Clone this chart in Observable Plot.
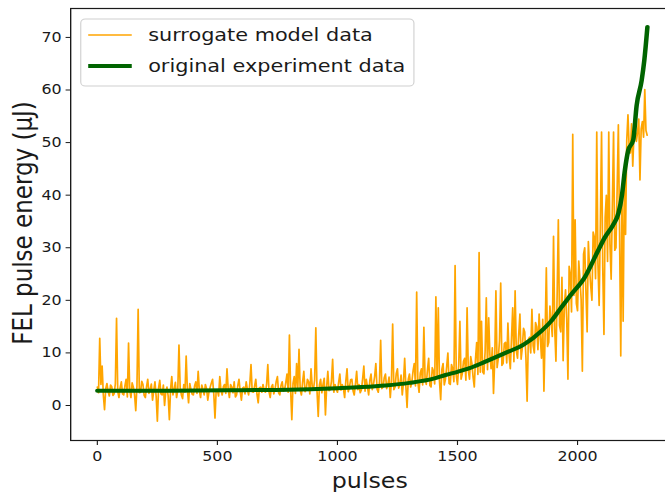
<!DOCTYPE html>
<html><head><meta charset="utf-8">
<script src="https://cdn.jsdelivr.net/npm/d3@7"></script>
<script src="https://cdn.jsdelivr.net/npm/@observablehq/plot@0.6"></script>
<style>
html,body{margin:0;padding:0;background:#fff;overflow:hidden;}
#chart{position:relative;width:665px;height:496px;}
</style></head><body><div id="chart"></div>
<script>
// ---- data ----
const surrogateStep = 5; // pulses between successive surrogate samples
const surrogateValues = [
  3.5, 2.4, 12.8, 4.0, 7.5, 2.0, -0.8, 3.2, 4.2, 2.6, 1.8, 3.9, 3.6, 1.9, 2.2, 4.1, 16.6, 2.7, 1.5, 3.4,
  4.5, 2.2, 2.0, 3.8, 5.0, 1.6, 11.9, 2.9, 1.5, 4.3, 3.5, 2.1, -1.0, 3.7, 18.3, 2.4, 2.5, 4.6, 4.0, 1.9,
  1.5, 3.6, 5.0, 2.3, 3.0, 4.1, 1.0, 2.8, 4.5, 1.7, -3.0, 3.3, 4.8, 2.2, 2.0, 3.9, 0.0, 2.6, 3.5, 1.8,
  -2.7, 3.1, 5.5, 2.0, 3.0, 4.4, 1.5, 2.9, 11.5, 3.4, 2.0, 1.3, 4.0, 2.5, 9.4, 3.0, 0.5, 4.2, 3.0, 2.1,
  2.0, 3.7, 4.5, 2.3, 6.5, 2.8, 1.5, 3.9, 3.0, 2.0, 4.0, 3.2, 1.0, 2.6, 3.5, 4.3, 5.0, 2.2, -2.4, 3.0,
  3.0, 1.8, 5.5, 2.9, 2.0, 3.6, 4.0, 2.3, 7.0, 3.1, 1.5, 4.0, 3.5, 2.4, 4.5, 1.6, 2.0, 3.8, 5.0, 2.7,
  1.0, 3.3, 3.5, 2.2, 4.5, 3.0, 2.0, 4.1, 7.8, 2.6, 2.5, 3.7, 5.0, 2.1, 0.5, 3.4, 3.5, 2.5, 4.0, 2.9,
  2.5, 4.0, 7.8, 2.6, 1.5, 3.5, 4.0, 2.2, 3.0, 4.6, 5.5, 2.4, 2.0, 3.8, 4.5, 2.7, 3.0, 4.4, 6.0, 2.5,
  13.4, 3.0, -2.7, 4.2, 5.5, 2.3, 8.0, 3.4, 10.7, 2.9, 2.0, 4.5, 6.5, 2.6, 3.0, 5.0, 4.5, 2.2, 7.0, 3.6,
  3.0, 4.8, 14.8, 2.7, -2.1, 3.9, 5.0, 2.4, 4.0, 5.2, -1.8, 3.5, 6.5, 2.8, 3.0, 4.6, 8.8, 2.5, 4.0, 3.1,
  2.5, 4.4, 6.0, 2.9, 4.0, 3.2, 1.5, 4.7, 7.0, 2.6, 3.5, 4.9, 5.0, 2.8, 2.0, 4.1, 6.5, 3.0, 4.0, 2.4,
  3.0, 5.1, 7.5, 2.7, 5.0, 3.6, 2.0, 4.8, 6.0, 3.0, 4.0, 5.5, 8.0, 3.1, 2.5, 4.5, 12.4, 3.2, 3.5, 5.3,
  6.0, 3.2, 4.0, 5.4, 1.5, 4.6, 15.5, 3.0, 3.5, 6.1, 7.0, 3.3, 4.0, 5.8, 2.0, 4.4, 9.0, 3.6, -0.4, 5.0,
  6.0, 3.5, 4.5, 6.6, 8.0, 3.7, 21.6, 4.4, 2.5, 6.2, 7.0, 3.9, 14.9, 5.2, 4.0, 6.8, 9.0, 3.8, 3.5, 7.2,
  6.5, 4.1, 20.7, 5.3, 18.6, 4.6, 1.1, 6.9, 8.0, 3.9, 5.0, 7.4, 10.0, 4.2, 4.0, 7.8, 7.0, 4.5, 26.6, 5.6,
  4.0, 7.5, 16.0, 5.0, 6.0, 8.4, 9.0, 4.8, 18.6, 6.7, 5.0, 9.3, 8.0, 5.4, 3.5, 8.9, 12.0, 5.9, 29.1, 6.3,
  16.0, 6.4, 6.0, 10.2, 20.5, 6.8, 16.7, 9.6, 7.0, 11.0, 2.3, 8.5, 21.8, 7.2, 9.0, 12.3, 23.3, 7.6, 8.0, 11.8,
  12.0, 8.1, 15.7, 9.5, 7.0, 12.8, 18.6, 8.3, 21.8, 10.4, 9.0, 13.5, 17.4, 8.8, 11.0, 14.7, 14.0, 9.2, 0.8, 12.6,
  13.0, 10.0, 18.3, 11.4, 10.0, 15.8, 15.0, 10.6, 17.4, 12.9, 9.0, 16.4, 2.7, 13.8, 26.2, 11.2, 12.0, 18.9, 16.0, 13.1,
  32.2, 14.6, 8.4, 21.0, 35.3, 15.2, 14.0, 24.4, 8.5, 18.7, 22.0, 16.3, 5.0, 26.5, 25.0, 17.8, 51.6, 20.9, 35.3, 19.4,
  18.0, 27.5, 24.0, 20.2, 6.5, 28.8, 30.0, 21.5, 14.0, 31.2, 26.0, 22.7, 20.0, 33.0, 32.0, 24.1, 52.0, 27.0, 19.0, 34.5,
  52.0, 26.2, 13.5, 35.8, 40.0, 27.4, 52.0, 30.6, 24.0, 38.0, 52.0, 29.5, 30.0, 41.2, 53.4, 33.0, 9.4, 39.5, 16.0, 44.0,
  32.5, 50.5, 55.3, 49.0, 48.0, 53.6, 45.5, 51.8, 53.0, 50.2, 52.0, 54.5, 42.9, 52.6, 54.0, 51.0, 60.1, 52.3, 51.4
];
const experimentPulses = [0, 300, 600, 800, 1000, 1100, 1200, 1300, 1400, 1450, 1500, 1550, 1609, 1700, 1777, 1850, 1889, 1930, 1973, 2029, 2085, 2113, 2150, 2170, 2185, 2197, 2211, 2232, 2246, 2267, 2278, 2291];
const experimentValues = [2.8, 2.8, 2.9, 3.0, 3.3, 3.5, 3.8, 4.3, 5.1, 5.8, 6.4, 7.1, 8.2, 10.0, 11.6, 14.2, 16.0, 18.5, 21.1, 24.3, 29.4, 31.9, 34.5, 36.5, 40.0, 44.7, 48.5, 50.5, 57.0, 61.8, 65.6, 72.0];
const xTicks = [0, 500, 1000, 1500, 2000];
const yTicks = [0, 10, 20, 30, 40, 50, 60, 70];
const seriesNames = ["surrogate model data", "original experiment data"];
const seriesColors = ["#ffa500", "#006400"];
const xLabel = "pulses";
const yLabel = "FEL pulse energy (μJ)";

// ---- tables ----
const surrogate = surrogateValues.map((v, i) => ({pulse: i * surrogateStep, energy: v}));
const experiment = experimentPulses.map((p, i) => ({pulse: p, energy: experimentValues[i]}));

// the reference figure is horizontally stretched; draw at a narrower width and stretch
const SX = 1.131;
const W = Math.round(665 / SX);
const H = 496;

const svg = Plot.plot({
  width: W, height: H,
  marginLeft: 62, marginRight: -9, marginTop: 8, marginBottom: 56,
  style: {fontFamily: "DejaVu Sans", fontSize: "14px", color: "#1a1a1a", background: "#fff"},
  x: {domain: [-111, 2409]},
  y: {domain: [-6.66, 75.5]},
  marks: [
    Plot.line(surrogate, {x: "pulse", y: "energy", stroke: seriesColors[0], strokeWidth: 1.5}),
    Plot.line(experiment, {x: "pulse", y: "energy", stroke: seriesColors[1], strokeWidth: 4, curve: "monotone-x"}),
    Plot.frame({stroke: "#1a1a1a", strokeWidth: 1.2}),
    Plot.axisX({ticks: xTicks, tickSize: 5, tickPadding: 6, label: null, tickFormat: d3.format("d")}),
    Plot.axisY({ticks: yTicks, tickSize: 4, tickPadding: 4, label: null, tickFormat: d3.format("d")})
  ]
});

svg.setAttribute("width", 665);
svg.setAttribute("preserveAspectRatio", "none");
svg.style.width = "665px";
svg.style.height = H + "px";
svg.style.maxWidth = "none";

const g = d3.select(svg).append("g").attr("font-family", "DejaVu Sans").attr("fill", "#1a1a1a");
g.append("text").attr("x", 327).attr("y", 488).attr("text-anchor", "middle")
  .attr("font-size", 21).text(xLabel);
g.append("text").attr("transform", "translate(28,223) rotate(-90)").attr("text-anchor", "middle")
  .attr("font-size", 23).text(yLabel);

// legend
const lg = d3.select(svg).append("g").attr("font-family", "DejaVu Sans").attr("text-anchor", "start");
lg.append("rect").attr("x", 71.4).attr("y", 19).attr("width", 294.6).attr("height", 67)
  .attr("rx", 4).attr("fill", "#fff").attr("fill-opacity", 0.85).attr("stroke", "#d0d0d0").attr("stroke-width", 1);
seriesNames.forEach((name, i) => {
  const y = 35 + i * 31;
  lg.append("line").attr("x1", 78).attr("x2", 116.5).attr("y1", y).attr("y2", y)
    .attr("stroke", seriesColors[i]).attr("stroke-width", i === 0 ? 1.5 : 4);
  lg.append("text").attr("x", 131).attr("y", y).attr("dy", "0.35em").attr("text-anchor", "start")
    .attr("font-size", 18.4).attr("fill", "#1a1a1a").text(name);
});

document.getElementById("chart").appendChild(svg);
</script></body></html>
